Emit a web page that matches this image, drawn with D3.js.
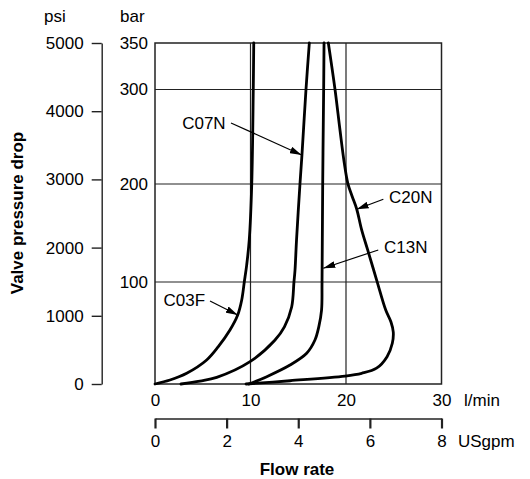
<!DOCTYPE html>
<html><head><meta charset="utf-8">
<script src="https://cdn.jsdelivr.net/npm/d3@7"></script>
<style>
body{margin:0;background:#fff;}
text{font-family:"Liberation Sans",Arial,Helvetica,sans-serif;fill:#000;}
</style></head>
<body><svg id="chart" width="530" height="479"></svg>
<script>
// ---- data ----
const flowTicks = [0, 10, 20, 30];          // l/min
const gpmTicks = [0, 2, 4, 6, 8];           // USgpm
const psiTicks = [0, 1000, 2000, 3000, 4000, 5000];
const barTicks = [100, 200, 300, 350];
const barGrid = [100, 200, 300];
const flowGrid = [10, 20];
// curves: [flow l/min, pressure bar]
const c03f = [[0,0],[1.57,3.9],[3.32,10.5],[5.41,23.5],[6.63,36.6],[7.85,52.9],[8.66,67.6],[9.08,82.4],[9.35,100],[9.60,117.3],[9.87,142.9],[10.13,200],[10.29,300],[10.34,350]];
const c07n = [[2.72,0],[4.71,2.9],[6.46,6.5],[9.95,21.9],[12.57,43.1],[13.55,56],[14.31,75.5],[14.55,100],[14.66,112],[14.82,143],[15.18,200],[15.39,231],[15.81,300],[16.16,350]];
const c13n = [[9.84,0],[11.70,7.2],[14.14,18.6],[15.88,30.1],[16.75,43.1],[17.15,56],[17.44,72.5],[17.49,100],[17.56,200],[17.66,300],[17.70,350]];
const c20n = [[9.53,0],[14.14,3.2],[19.90,7.8],[21.64,10.5],[23.2,15.5],[24.3,26.8],[24.85,39.9],[24.95,51],[24.71,60.8],[24.16,72.5],[23.21,102],[22.27,132.7],[21.64,153.1],[21.12,174.5],[20.63,187.8],[20.19,200.7],[19.82,222.2],[19.37,257.1],[18.85,300],[18.15,350]];
const curves = [c03f, c07n, c13n, c20n];
// annotations: label, text point, leader start, arrow tip (data units)
const annotations = [
  {label:"C03F", tx:5.24, ty:82.4, anchor:"end", lx:5.76, ly:81.4, ax:8.66, ay:67.6},
  {label:"C07N", tx:7.40, ty:265, anchor:"end", lx:7.96, ly:264.6, ax:15.36, ay:230.7},
  {label:"C13N", tx:23.98, ty:136, anchor:"start", lx:23.38, ly:132.7, ax:17.62, ay:114},
  {label:"C20N", tx:24.5, ty:187, anchor:"start", lx:23.91, ly:184.4, ax:21.12, ay:174.2}
];

// ---- layout ----
const L = 155, R = 441.5, T = 43, B = 384;
const FS = 17;
const svg = d3.select("#chart");

const x = d3.scaleLinear().domain([0, 30]).range([L, R]);
const xg = d3.scaleLinear().domain([0, 8]).range([L, R]);
const yPsi = d3.scaleLinear().domain([0, 5000]).range([B, T]);
const yBar = d3.scaleLinear().domain([0, 100, 200, 300, 350]).range([B, 282, 184, 89.5, T]);

svg.append("defs").append("marker")
  .attr("id", "arr").attr("markerUnits", "userSpaceOnUse")
  .attr("viewBox", "0 0 12 7").attr("markerWidth", 12).attr("markerHeight", 7)
  .attr("refX", 12).attr("refY", 3.5).attr("orient", "auto")
  .append("path").attr("d", "M0,0L12,3.5L0,7Z").attr("fill", "#000");

// grid
svg.append("g").selectAll("line").data(barGrid).join("line")
  .attr("x1", L).attr("x2", R).attr("y1", d => yBar(d)).attr("y2", d => yBar(d))
  .attr("stroke", "#222").attr("stroke-width", 1.2);
svg.append("g").selectAll("line").data(flowGrid).join("line")
  .attr("x1", d => x(d)).attr("x2", d => x(d)).attr("y1", T).attr("y2", B)
  .attr("stroke", "#222").attr("stroke-width", 1.2);
svg.append("rect").attr("x", L).attr("y", T).attr("width", R - L).attr("height", B - T)
  .attr("fill", "none").attr("stroke", "#222").attr("stroke-width", 1.5);

// psi axis
const gPsi = svg.append("g").attr("transform", "translate(101.7,0)")
  .call(d3.axisLeft(yPsi).tickValues(psiTicks).tickSize(10).tickSizeOuter(0).tickPadding(8).tickFormat(d3.format("d")));
gPsi.selectAll("path,line").attr("stroke", "#222").attr("stroke-width", 1.4);
gPsi.selectAll("text").style("font-size", FS + "px").attr("font-family", null);

// bar axis (labels only)
const gBar = svg.append("g").attr("transform", `translate(${L},0)`)
  .call(d3.axisLeft(yBar).tickValues(barTicks).tickSize(0).tickPadding(7));
gBar.select(".domain").remove();
gBar.selectAll("text").style("font-size", FS + "px").attr("font-family", null);

// flow l/min axis (labels only)
const gFlow = svg.append("g").attr("transform", `translate(0,${B})`)
  .call(d3.axisBottom(x).tickValues(flowTicks).tickSize(0).tickPadding(10));
gFlow.select(".domain").remove();
gFlow.selectAll("text").style("font-size", FS + "px").attr("font-family", null);

// USgpm axis
const gGpm = svg.append("g").attr("transform", "translate(0,418.5)")
  .call(d3.axisBottom(xg).tickValues(gpmTicks).tickSize(10).tickSizeOuter(0).tickPadding(6));
gGpm.select(".domain").attr("stroke", "#222").attr("stroke-width", 1.5);
gGpm.selectAll(".tick line").attr("stroke", "#222").attr("stroke-width", 2.2);
gGpm.selectAll("text").style("font-size", FS + "px").attr("font-family", null);

// unit labels
svg.append("text").attr("x", 44).attr("y", 22).style("font-size", FS + "px").text("psi");
svg.append("text").attr("x", 120).attr("y", 22).style("font-size", FS + "px").text("bar");
svg.append("text").attr("x", 464).attr("y", 406).style("font-size", FS + "px").text("l/min");
svg.append("text").attr("x", 458).attr("y", 447).style("font-size", FS + "px").text("USgpm");
svg.append("text").attr("x", 297).attr("y", 474.5).attr("text-anchor", "middle")
  .style("font-size", FS + "px").style("font-weight", "bold").text("Flow rate");
svg.append("text").attr("transform", "translate(23,213) rotate(-90)").attr("text-anchor", "middle")
  .style("font-size", FS + "px").style("font-weight", "bold").text("Valve pressure drop");

// curves
const line = d3.line().x(d => x(d[0])).y(d => yBar(d[1])).curve(d3.curveCatmullRom.alpha(0.5));
svg.append("g").selectAll("path").data(curves).join("path")
  .attr("d", line).attr("fill", "none").attr("stroke", "#000")
  .attr("stroke-width", 2.8).attr("stroke-linejoin", "round").attr("stroke-linecap", "round");

// annotations
const ga = svg.append("g");
ga.selectAll("line").data(annotations).join("line")
  .attr("x1", d => x(d.lx)).attr("y1", d => yBar(d.ly))
  .attr("x2", d => x(d.ax)).attr("y2", d => yBar(d.ay))
  .attr("stroke", "#000").attr("stroke-width", 1.2).attr("marker-end", "url(#arr)");
ga.selectAll("text").data(annotations).join("text")
  .attr("x", d => x(d.tx)).attr("y", d => yBar(d.ty)).attr("dy", "0.36em")
  .attr("text-anchor", d => d.anchor).style("font-size", FS + "px").text(d => d.label);
</script></body></html>
